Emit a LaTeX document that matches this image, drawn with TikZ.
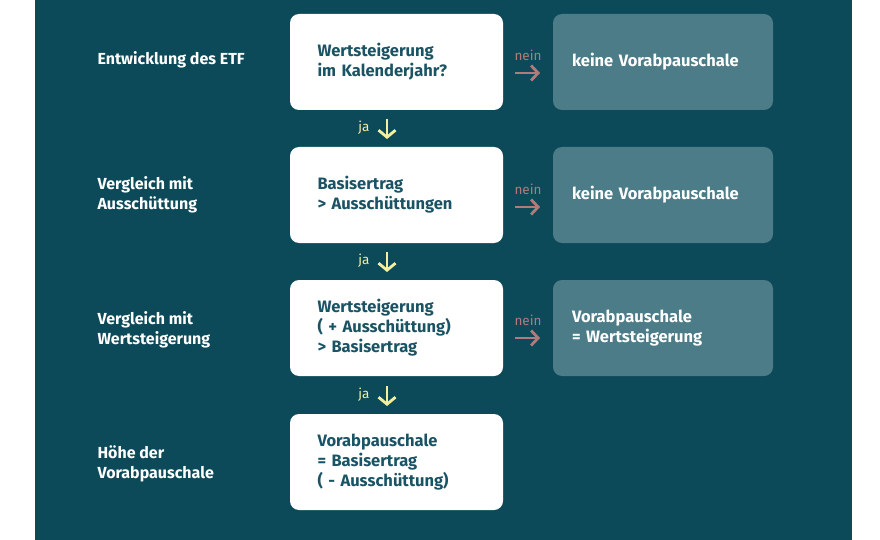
\documentclass[tikz,border=0pt]{standalone}
\usepackage{fontspec}
\setmainfont{Fira Sans}
\usetikzlibrary{positioning,arrows.meta}
\definecolor{bgteal}{HTML}{0C4A59}
\definecolor{boxteal}{HTML}{4B7C87}
\definecolor{txteal}{HTML}{1A5364}
\definecolor{neinrose}{HTML}{B27B7B}
\definecolor{jayellow}{HTML}{F3EFA0}
\begin{document}
\begin{tikzpicture}[x=1pt,y=-1pt,
  white box/.style={fill=white, rounded corners=9pt, minimum width=213pt, minimum height=96pt,
    text width=158pt, align=left, inner sep=0pt, text=txteal, font=\fontsize{16.5}{20}\selectfont\bfseries},
  teal box/.style={fill=boxteal, rounded corners=9pt, minimum width=220pt, minimum height=96pt,
    text width=182pt, align=left, inner sep=0pt, text=white, font=\fontsize{16.5}{20}\selectfont\bfseries},
  step label/.style={anchor=west, align=left, text=white, font=\fontsize{16}{20}\selectfont\bfseries},
  nein/.style={text=neinrose, font=\fontsize{13.5}{16}\selectfont},
  ja/.style={text=jayellow, font=\fontsize{13.5}{16}\selectfont},
  nein arrow/.style={draw=neinrose, line width=2.8pt, -{Straight Barb[length=7pt,width=15pt]}},
  ja arrow/.style={draw=jayellow, line width=2.8pt, -{Straight Barb[length=7pt,width=17pt]}}]

  \useasboundingbox (0,0) rectangle (880,540);
  \fill[bgteal] (35,0) rectangle (852,540);

  % decision boxes
  \node[white box] (q1) at (396.5,62) {Wertsteigerung\\im Kalenderjahr?};
  \node[white box] (q2) at (396.5,195) {Basisertrag\\> Ausschüttungen};
  \node[white box] (q3) at (396.5,328) {Wertsteigerung\\( + Ausschüttung)\\> Basisertrag};
  \node[white box] (q4) at (396.5,462) {Vorabpauschale\\= Basisertrag\\( - Ausschüttung)};

  % results
  \node[teal box] (r1) at (663,62) {keine Vorabpauschale};
  \node[teal box] (r2) at (663,195) {keine Vorabpauschale};
  \node[teal box] (r3) at (663,328) {Vorabpauschale\\= Wertsteigerung};

  % row labels
  \node[step label] (l1) at (94,60) {Entwicklung des ETF};
  \node[step label] (l2) at (94,195) {Vergleich mit\\Ausschüttung};
  \node[step label] (l3) at (94,330) {Vergleich mit\\Wertsteigerung};
  \node[step label] (l4) at (94,464) {Höhe der\\Vorabpauschale};

  % nein arrows
  \foreach \r/\y in {1/73,2/207,3/338}{
    \coordinate (n\r a) at (515,\y);
    \coordinate (n\r b) at (540,\y);
    \draw[nein arrow] (n\r a) -- (n\r b);
    \node[nein, above=9pt of n\r b, xshift=-12pt] (nt\r) {nein};
  }

  % ja arrows
  \foreach \r/\y in {1/119,2/252,3/386}{
    \coordinate (j\r a) at (387,\y);
    \coordinate (j\r b) at (387,\y+20);
    \draw[ja arrow] (j\r a) -- (j\r b);
    \node[ja, left=14pt of j\r a, yshift=-9pt] (jt\r) {ja};
  }
\end{tikzpicture}
\end{document}
